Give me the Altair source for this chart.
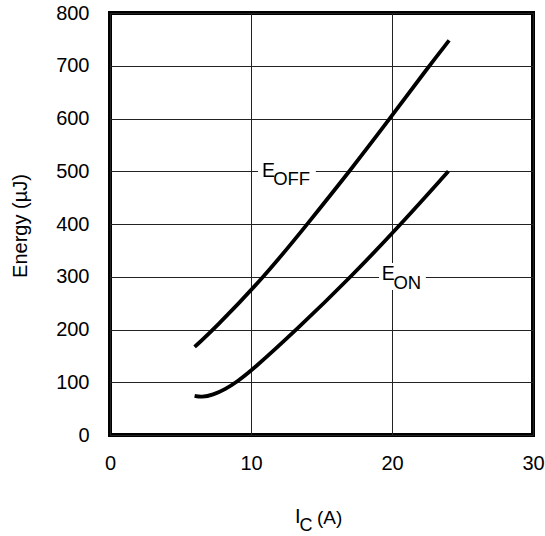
import altair as alt
import pandas as pd

# Data
ic_off = [6, 7.35, 10.95, 14.0, 17.05, 19.8, 22.5, 24.05]
e_off = [167, 200, 300, 400, 502, 598, 695, 748]
ic_on = [6, 6.5, 7.3, 8.2, 9, 10, 13.25, 17.1, 20.65, 24]
e_on = [74, 71.5, 76, 87, 101, 121, 200, 300, 400, 500]

x_ticks = [0, 10, 20, 30]
y_ticks = [0, 100, 200, 300, 400, 500, 600, 700, 800]

FONT = "Liberation Sans"

df = pd.concat([
    pd.DataFrame({"ic": ic_off, "e": e_off, "s": "EOFF"}),
    pd.DataFrame({"ic": ic_on, "e": e_on, "s": "EON"}),
])

xs = alt.Scale(domain=[0, 30], nice=False)
ys = alt.Scale(domain=[0, 800], nice=False)

xaxis = alt.Axis(values=x_ticks, title=None, grid=True, ticks=False, domain=False,
                 labelFont=FONT, labelFontSize=20, labelColor="black", labelPadding=18,
                 labelFlush=False, gridColor="#222222", gridWidth=1)
yaxis = alt.Axis(values=y_ticks, title=None, grid=True, ticks=False, domain=False,
                 labelFont=FONT, labelFontSize=20, labelColor="black", labelPadding=21,
                 labelFlush=False, gridColor="#222222", gridWidth=1)

lines = alt.Chart(df).mark_line(interpolate="basis", color="black", strokeWidth=3.8).encode(
    x=alt.X("ic:Q", scale=xs, axis=xaxis),
    y=alt.Y("e:Q", scale=ys, axis=yaxis),
    detail="s:N",
)

# white boxes behind curve labels
boxes_df = pd.DataFrame({"x1": [10.5, 19.08], "x2": [14.6, 22.4], "y1": [488, 275], "y2": [515, 326]})
boxes = alt.Chart(boxes_df).mark_rect(color="white").encode(
    x=alt.X("x1:Q", scale=xs), x2="x2:Q",
    y=alt.Y("y1:Q", scale=ys), y2="y2:Q",
)

lab_df = pd.DataFrame({
    "t": ["E", "OFF", "E", "ON"],
    "x": [10.78, 11.57, 19.27, 20.1],
    "y": [490, 473.5, 294, 277],
    "fs": [19.5, 18.5, 19.5, 18.5],
})
labels = alt.Chart(lab_df).mark_text(font=FONT, align="left", baseline="alphabetic", color="black").encode(
    x=alt.X("x:Q", scale=xs), y=alt.Y("y:Q", scale=ys), text="t:N",
    size=alt.Size("fs:Q", scale=None, legend=None),
)

# axis titles
t_i = alt.Chart(pd.DataFrame({"t": ["I"]})).mark_text(font=FONT, fontSize=20, align="left", baseline="alphabetic").encode(
    x=alt.value(185), y=alt.value(510), text="t:N")
t_c = alt.Chart(pd.DataFrame({"t": ["C"]})).mark_text(font=FONT, fontSize=18, align="left", baseline="alphabetic").encode(
    x=alt.value(189.5), y=alt.value(518), text="t:N")
t_a = alt.Chart(pd.DataFrame({"t": ["(A)"]})).mark_text(font=FONT, fontSize=19, align="left", baseline="alphabetic").encode(
    x=alt.value(207), y=alt.value(511), text="t:N")
t_y = alt.Chart(pd.DataFrame({"t": ["Energy (µJ)"]})).mark_text(font=FONT, fontSize=20, align="center", baseline="middle", angle=270).encode(
    x=alt.value(-89.5), y=alt.value(213), text="t:N")

chart = alt.layer(boxes, lines, labels, t_i, t_c, t_a, t_y).properties(
    width=423, height=422,
    padding={"left": 110, "top": 13, "right": 12, "bottom": 101},
    autosize=alt.AutoSizeParams(type="none"),
    background="white",
).configure_view(stroke="black", strokeWidth=4)

chart.save("out.html", embed_options={"renderer": "svg", "actions": False})
